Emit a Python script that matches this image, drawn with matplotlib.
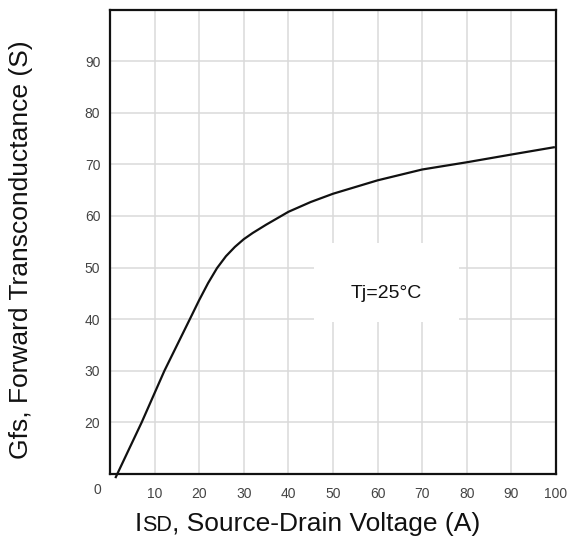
import matplotlib.pyplot as plt
from matplotlib.patches import Rectangle

#=== DONNEES ===
isd = [1.3, 7.1, 12.2, 17.9, 20, 22, 24, 26, 28, 30, 32, 35, 40, 45, 50, 60, 70, 80, 90, 99.5]
gfs = [9.4, 20, 30, 40, 43.7, 47.0, 49.9, 52.2, 54.0, 55.5, 56.7, 58.3, 60.8, 62.7, 64.3, 66.9, 69.0, 70.4, 71.9, 73.3]

xticks = [10, 20, 30, 40, 50, 60, 70, 80, 90, 100]
yticks = [20, 30, 40, 50, 60, 70, 80, 90]

W, H = 567, 537
fig = plt.figure(figsize=(W / 100, H / 100), dpi=100)
ax = fig.add_axes([110 / W, 1 - 474 / H, 446 / W, 464.5 / H])

#=== GRILLE ===
for xv in xticks[:-1]:
    ax.axvline(xv, color='#dadada', lw=1.1, zorder=0)
for yv in yticks:
    ax.axhline(yv, color='#dadada', lw=1.1, zorder=0)

#=== COURBE ===
ax.plot(isd, gfs, color='#111111', lw=1.6, clip_on=False, zorder=3)

#=== CADRE TEXTE ===
ax.add_patch(Rectangle((45.8, 39.4), 32.4, 15.3, facecolor='white', edgecolor='none', zorder=1))
ax.text(61.9, 45, "Tj=25°C", ha='center', va='center', fontsize=14,
        family='Liberation Sans', color='#111111', zorder=4)

ax.set_xlim(0, 100)
ax.set_ylim(10, 100)
ax.set_xticks(xticks)
ax.set_yticks(yticks)
ax.tick_params(length=0, labelsize=10, labelcolor='#444444')
ax.tick_params(axis='x', pad=9)
ax.tick_params(axis='y', pad=7)
for lbl in ax.get_xticklabels() + ax.get_yticklabels():
    lbl.set_family('Liberation Sans')
for s in ax.spines.values():
    s.set_linewidth(1.6)
    s.set_color('#111111')

# le "0" du coin, decale a gauche
ax.annotate("0", xy=(0, 0), xycoords='axes fraction', xytext=(-13, -9),
            textcoords='offset pixels', ha='center', va='top', fontsize=10,
            family='Liberation Sans', color='#444444')

#=== TITRES DES AXES ===
lab = dict(family='Liberation Sans', color='#111111')
t1 = fig.text(135 / W, 1 - 531 / H, "I", fontsize=19, va='baseline', **lab)
t2 = ax.annotate("SD", xy=(1, 0), xycoords=t1, va='bottom', ha='left', fontsize=15.5, **lab)
ax.annotate(", Source-Drain Voltage (A)", xy=(1, 0), xycoords=(t2, t1), va='bottom',
            ha='left', fontsize=19, **lab)

fig.text(21 / W, 1 - 250 / H, "Gfs, Forward Transconductance (S)", rotation=90,
         ha='center', va='center', fontsize=19, **lab)

fig.savefig("out.png", dpi=100)
